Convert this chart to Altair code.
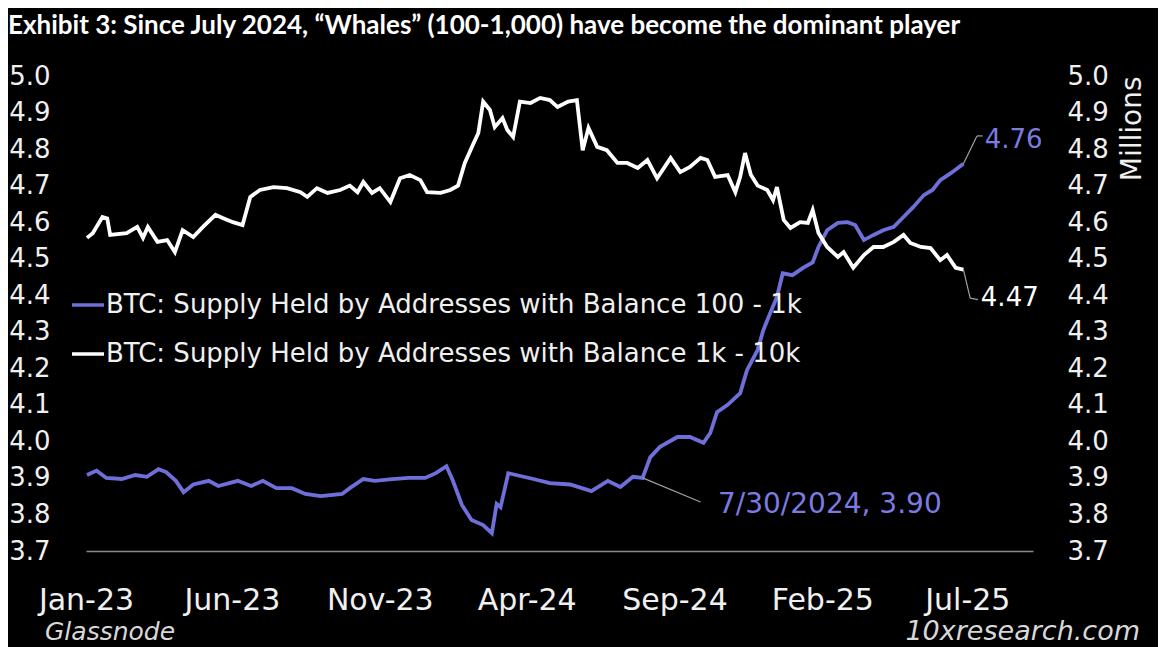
import altair as alt
import pandas as pd

blue_name = "BTC: Supply Held by Addresses with Balance 100 - 1k"
white_name = "BTC: Supply Held by Addresses with Balance 1k - 10k"

white_dates = ["2023-01-02","2023-01-08","2023-01-18","2023-01-23","2023-01-26","2023-02-12","2023-02-23",
    "2023-03-01","2023-03-06","2023-03-16","2023-03-26","2023-04-03","2023-04-11","2023-04-22","2023-05-02",
    "2023-05-15","2023-05-23","2023-06-02","2023-06-12","2023-06-20","2023-06-30","2023-07-14","2023-07-28",
    "2023-08-11","2023-08-18","2023-08-28","2023-09-08","2023-09-21","2023-10-01","2023-10-09","2023-10-15",
    "2023-10-24","2023-11-01","2023-11-12","2023-11-22","2023-12-02","2023-12-13","2023-12-20","2024-01-03",
    "2024-01-13","2024-01-21","2024-01-28","2024-02-06","2024-02-11","2024-02-16","2024-02-23","2024-02-28",
    "2024-03-07","2024-03-12","2024-03-18","2024-03-25","2024-04-05","2024-04-15","2024-04-25","2024-05-03",
    "2024-05-14","2024-05-23","2024-05-29","2024-06-04","2024-06-13","2024-06-23","2024-07-04","2024-07-14",
    "2024-07-25","2024-08-04","2024-08-14","2024-08-28","2024-09-07","2024-09-17","2024-09-28","2024-10-05",
    "2024-10-13","2024-10-26","2024-11-03","2024-11-08","2024-11-13","2024-11-19","2024-11-26","2024-12-06",
    "2024-12-12","2024-12-16","2024-12-23","2024-12-30","2025-01-09","2025-01-17","2025-01-22","2025-01-28",
    "2025-02-06","2025-02-17","2025-02-23","2025-03-05","2025-03-16","2025-03-26","2025-04-05","2025-04-16",
    "2025-04-26","2025-05-03","2025-05-14","2025-05-24","2025-06-03","2025-06-10","2025-06-19","2025-06-27"]
white_values = [4.557,4.57,4.614,4.61,4.565,4.57,4.587,4.557,4.587,4.546,
    4.551,4.518,4.578,4.559,4.587,4.62,4.611,4.60,4.592,4.669,
    4.688,4.696,4.693,4.682,4.669,4.693,4.68,4.688,4.70,4.682,
    4.71,4.68,4.693,4.655,4.72,4.729,4.715,4.682,4.68,4.688,
    4.70,4.762,4.815,4.844,4.93,4.907,4.86,4.885,4.852,4.833,
    4.93,4.926,4.94,4.934,4.915,4.93,4.934,4.797,4.858,4.806,
    4.797,4.762,4.762,4.748,4.77,4.72,4.776,4.737,4.751,4.776,
    4.77,4.724,4.729,4.682,4.724,4.789,4.73,4.70,4.688,4.66,
    4.696,4.606,4.584,4.60,4.598,4.633,4.57,4.532,4.505,4.518,
    4.475,4.51,4.532,4.532,4.546,4.565,4.543,4.532,4.529,4.496,
    4.51,4.475,4.47]

blue_dates = ["2023-01-02","2023-01-12","2023-01-22","2023-02-07","2023-02-21","2023-03-05","2023-03-17",
    "2023-03-25","2023-04-04","2023-04-12","2023-04-22","2023-05-08","2023-05-18","2023-06-07","2023-06-21",
    "2023-07-03","2023-07-17","2023-08-02","2023-08-16","2023-09-01","2023-09-23","2023-10-01","2023-10-15",
    "2023-10-27","2023-11-14","2023-12-01","2023-12-18","2023-12-29","2024-01-09","2024-01-15","2024-01-25",
    "2024-02-04","2024-02-16","2024-02-25","2024-03-01","2024-03-05","2024-03-13","2024-03-21","2024-04-08",
    "2024-04-25","2024-05-16","2024-06-07","2024-06-24","2024-07-07","2024-07-20","2024-07-30","2024-08-07",
    "2024-08-17","2024-09-04","2024-09-17","2024-10-01","2024-10-08","2024-10-15","2024-10-26","2024-11-08",
    "2024-11-15","2024-11-26","2024-12-02","2024-12-09","2024-12-16","2024-12-22","2025-01-01","2025-01-12",
    "2025-01-22","2025-01-28","2025-02-06","2025-02-17","2025-02-27","2025-03-07","2025-03-16","2025-03-26",
    "2025-04-05","2025-04-16","2025-04-26","2025-05-06","2025-05-17","2025-05-26","2025-06-03","2025-06-14",
    "2025-06-27"]
blue_values = [3.908,3.92,3.90,3.897,3.908,3.903,3.924,3.916,3.892,3.861,
    3.882,3.892,3.878,3.892,3.878,3.892,3.872,3.872,3.856,3.85,
    3.856,3.872,3.897,3.892,3.897,3.90,3.90,3.913,3.932,3.897,
    3.826,3.785,3.771,3.749,3.829,3.82,3.913,3.908,3.897,3.886,
    3.882,3.864,3.892,3.875,3.903,3.90,3.957,3.985,4.012,4.012,
    3.996,4.023,4.08,4.10,4.132,4.195,4.25,4.305,4.351,4.395,
    4.46,4.455,4.475,4.49,4.532,4.578,4.598,4.60,4.592,4.551,
    4.565,4.578,4.587,4.614,4.641,4.674,4.688,4.715,4.734,4.76]

y_ticks = [3.7, 3.8, 3.9, 4.0, 4.1, 4.2, 4.3, 4.4, 4.5, 4.6, 4.7, 4.8, 4.9, 5.0]
x_ticks = [(2023, 1), (2023, 6), (2023, 11), (2024, 4), (2024, 9), (2025, 2), (2025, 7)]

BLUE = "#6f6fd9"
BLUE_TEXT = "#7b7be0"
WHITE = "#ffffff"
TXT = "#f0f0f0"

df = pd.concat([
    pd.DataFrame({"date": blue_dates, "value": blue_values, "series": blue_name}),
    pd.DataFrame({"date": white_dates, "value": white_values, "series": white_name}),
], ignore_index=True)

hl = blue_dates.index("2024-07-30")
m, d, yy = 7, 30, 2024
ann = pd.DataFrame({
    "px": [blue_dates[-1], white_dates[-1], blue_dates[hl]],
    "py": [blue_values[-1], white_values[-1], blue_values[hl]],
    "ex": ["2025-07-11", "2025-07-04", "2024-09-28"],
    "ey": [4.836, 4.392, 3.834],
    "tx": ["2025-07-17", "2025-07-12", "2024-09-28"],
    "ty": [4.836, 4.388, 3.834],
    "lx": ["2025-07-19", "2025-07-15", "2024-10-16"],
    "ly": [4.825, 4.392, 3.826],
    "label": [f"{blue_values[-1]:.2f}", f"{white_values[-1]:.2f}", f"{m}/{d}/{yy}, {blue_values[hl]:.2f}"],
    "col": [BLUE_TEXT, WHITE, BLUE_TEXT],
    "fs": [26, 26, 28],
})

y_scale = alt.Scale(domain=[3.7, 5.0], nice=False, zero=False)
x_scale = alt.Scale(domain=[alt.DateTime(year=2023, month=1, date=1),
                            alt.DateTime(year=2025, month=9, date=7)])

x_axis = alt.Axis(values=[alt.DateTime(year=a, month=b, date=1) for a, b in x_ticks],
                  format="%b-%y", labelFont="DejaVu Sans", labelFontSize=30, labelColor=TXT,
                  labelPadding=34, ticks=False, domain=True, domainColor="#8a8a8a", domainWidth=1.5,
                  grid=False, labelFlush=False, labelOverlap=False, title=None)
left_axis = alt.Axis(orient="left", values=y_ticks, format=".1f", labelFont="DejaVu Sans",
                     labelFontSize=26, labelColor=TXT, labelPadding=36, ticks=False, domain=False,
                     grid=False, title=None)
right_axis = alt.Axis(orient="right", values=y_ticks, format=".1f", labelFont="DejaVu Sans",
                      labelFontSize=26, labelColor=TXT, labelPadding=34, ticks=False, domain=False,
                      grid=False, title="Millions", titleAngle=270, titleAnchor="end",
                      titleFont="DejaVu Sans", titleFontSize=28, titleFontWeight="normal",
                      titleColor=TXT, titlePadding=38)

lines = alt.Chart(df).mark_line(strokeWidth=3.8).encode(
    x=alt.X("date:T", scale=x_scale, axis=x_axis),
    y=alt.Y("value:Q", scale=y_scale, axis=left_axis),
    color=alt.Color("series:N",
                    scale=alt.Scale(domain=[blue_name, white_name], range=[BLUE, WHITE]),
                    legend=alt.Legend(orient="none", legendX=-16, legendY=211, title=None,
                                      symbolType="stroke", symbolSize=1024, symbolStrokeWidth=3.5,
                                      labelFont="DejaVu Sans", labelFontSize=26, labelColor=TXT,
                                      labelLimit=1000, rowPadding=18, padding=0, labelOffset=0,
                                      direction="vertical")),
)

right = alt.Chart(df).mark_line(strokeOpacity=0).encode(
    x=alt.X("date:T", scale=x_scale),
    y=alt.Y("value:Q", scale=y_scale, axis=right_axis),
    detail="series:N",
)

lead1 = alt.Chart(ann).mark_rule(color="#a0a0a0", strokeWidth=1.2).encode(
    x=alt.X("px:T", scale=x_scale), y=alt.Y("py:Q", scale=y_scale, axis=None),
    x2="ex:T", y2="ey:Q")
lead2 = alt.Chart(ann).mark_rule(color="#a0a0a0", strokeWidth=1.2).encode(
    x=alt.X("ex:T", scale=x_scale), y=alt.Y("ey:Q", scale=y_scale, axis=None),
    x2="tx:T", y2="ty:Q")
labels = alt.Chart(ann).mark_text(align="left", baseline="middle", font="DejaVu Sans").encode(
    x=alt.X("lx:T", scale=x_scale), y=alt.Y("ly:Q", scale=y_scale, axis=None),
    text="label:N", fill=alt.Fill("col:N", scale=None), size=alt.Size("fs:Q", scale=None))

src = alt.Chart(pd.DataFrame({"t": ["Glassnode"]})).mark_text(
    align="left", baseline="middle", font="DejaVu Sans", fontStyle="italic", fontSize=25,
    color="#d8d8d8").encode(text="t:N", x=alt.value(-41), y=alt.value(556))
site = alt.Chart(pd.DataFrame({"t": ["10xresearch.com"]})).mark_text(
    align="right", baseline="middle", font="DejaVu Sans", fontStyle="italic", fontSize=27,
    color="#d8d8d8").encode(text="t:N", x=alt.value(1054), y=alt.value(556))

chart = alt.layer(lines, right, lead1, lead2, labels, src, site).resolve_scale(
    y="independent"
).properties(
    width=947, height=475,
    padding={"left": 78, "top": 68, "right": 125, "bottom": 96},
    autosize=alt.AutoSizeParams(type="none"),
    background="#000000",
    title=alt.TitleParams(
        text="Exhibit 3: Since July 2024, \u201cWhales\u201d (100-1,000) have become the dominant player",
        anchor="start", frame="group", dx=-78, offset=24, font="Lato", fontSize=26,
        fontWeight="bold", color=WHITE),
).configure_view(stroke=None)

chart.save("out.html", embed_options={"renderer": "svg", "actions": False})
